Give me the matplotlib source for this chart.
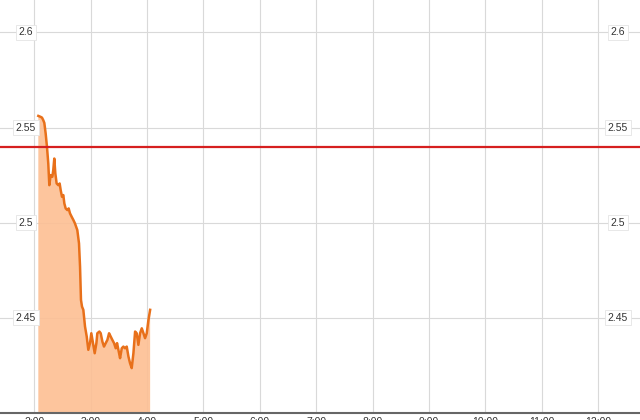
import matplotlib
matplotlib.use("Agg")
import matplotlib.pyplot as plt
import matplotlib.transforms as mtransforms

plt.rcParams['font.family'] = ['Liberation Sans', 'DejaVu Sans']

# minutes after 2:00 and price
minutes = [4.3, 6.7, 8.2, 9.6, 10.7, 12.1, 13.5, 14.9, 16.0, 17.4, 19.2, 20.2,
           21.3, 22.4, 23.8, 25.6, 27.0, 28.1, 29.5, 30.9, 32.0, 33.4, 35.2,
           36.6, 38.0, 39.8, 41.6, 43.3, 45.8, 47.6, 48.7, 49.7, 50.8, 52.2,
           54.0, 55.8, 57.5, 59.3, 60.7, 62.5, 64.3, 66.1, 67.1, 69.3, 70.7,
           72.5, 74.2, 76.0, 77.8, 79.6, 81.3, 83.1, 84.9, 86.7, 88.1, 89.9,
           91.3, 93.1, 94.8, 96.6, 98.4, 100.2, 101.9, 103.7, 105.5, 107.3,
           109.0, 110.8, 112.6, 114.4, 116.2, 117.9, 119.7, 121.5, 123.3]
price = [2.5561, 2.5556, 2.5552, 2.5538, 2.5524, 2.5469, 2.5399, 2.5311,
         2.5197, 2.5250, 2.5241, 2.5276, 2.5337, 2.5259, 2.5206, 2.5197,
         2.5206, 2.5171, 2.5136, 2.5145, 2.5101, 2.5075, 2.5066, 2.5075,
         2.5049, 2.5031, 2.5014, 2.4996, 2.4961, 2.4891, 2.4769, 2.4594,
         2.4559, 2.4542, 2.4454, 2.4402, 2.4332, 2.4367, 2.4419, 2.4367,
         2.4314, 2.4367, 2.4419, 2.4428, 2.4419, 2.4375, 2.4349, 2.4367,
         2.4384, 2.4419, 2.4402, 2.4384, 2.4367, 2.4340, 2.4367, 2.4323,
         2.4288, 2.4340, 2.4349, 2.4340, 2.4349, 2.4297, 2.4262, 2.4236,
         2.4314, 2.4428, 2.4419, 2.4358, 2.4419, 2.4445, 2.4419, 2.4393,
         2.4419, 2.4489, 2.4542]
prev_close = 2.5397

hour_ticks = [2, 3, 4, 5, 6, 7, 8, 9, 10, 11, 12]
hour_labels = ["2:00", "3:00", "4:00", "5:00", "6:00", "7:00", "8:00",
               "9:00", "10:00", "11:00", "12:00"]
price_ticks = [2.45, 2.5, 2.55, 2.6]
price_labels = ["2.45", "2.5", "2.55", "2.6"]

x = [2 + m / 60.0 for m in minutes]

fig = plt.figure(figsize=(6.4, 4.2), dpi=100)
ax = fig.add_axes([0, 7 / 420, 1, 413 / 420])

ax.fill_between(x, price, 2.0, color="#fdbf93", alpha=0.9, linewidth=0, zorder=1)
ax.plot(x, price, color="#e8701a", linewidth=1.8, zorder=3)
ax.axhline(prev_close, color="#d61f1f", linewidth=1.6, zorder=4)

ax.set_xlim(2 - 34.3 / 56.4, 12 + 42 / 56.4)
ax.set_ylim(2.40, 2.617)

ax.set_xticks(hour_ticks)
ax.set_xticklabels(hour_labels, fontsize=7.5, color="#333333")
ax.set_yticks(price_ticks)
ax.set_yticklabels([])
ax.tick_params(axis="both", length=0)
ax.tick_params(axis="x", pad=3)
ax.set_axisbelow(True)
ax.grid(True, color="#d9d9d9", linewidth=0.8)

for s in ["top", "left", "right"]:
    ax.spines[s].set_visible(False)
ax.spines["bottom"].set_color("#666666")
ax.spines["bottom"].set_linewidth(1.5)

trans = mtransforms.blended_transform_factory(ax.transAxes, ax.transData)
box = dict(boxstyle="square,pad=0.25", facecolor="white", edgecolor="#e4e4e4",
           linewidth=0.6)
for v, lab in zip(price_ticks, price_labels):
    ax.text(26 / 640, v, lab, transform=trans, fontsize=7.5, color="#333333",
            ha="center", va="center", bbox=box, zorder=5)
    ax.text(618 / 640, v, lab, transform=trans, fontsize=7.5, color="#333333",
            ha="center", va="center", bbox=box, zorder=5)

fig.savefig("out.png", dpi=100)
